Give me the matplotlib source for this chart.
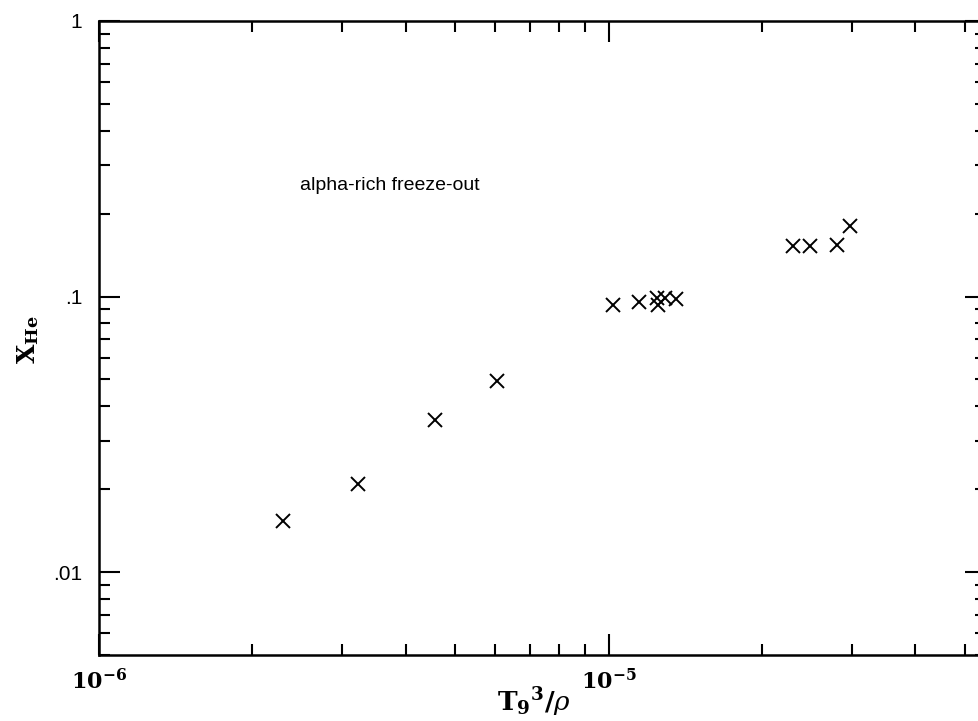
import matplotlib
matplotlib.use("Agg")
import matplotlib.pyplot as plt
from matplotlib.ticker import LogLocator, NullFormatter

# data
t9_over_rho = [2.30e-6, 3.23e-6, 4.56e-6, 6.05e-6,
               1.02e-5, 1.148e-5, 1.242e-5, 1.251e-5, 1.289e-5, 1.355e-5,
               2.30e-5, 2.48e-5, 2.81e-5, 2.98e-5]
x_he = [0.0153, 0.0208, 0.0356, 0.0493,
        0.0928, 0.0956, 0.0984, 0.0928, 0.0984, 0.0976,
        0.1524, 0.1524, 0.1532, 0.1805]

y_ticks = [0.01, 0.1, 1.0]
y_tick_labels = [".01", ".1", "1"]
x_ticks = [1e-6, 1e-5]
x_tick_labels = [r"$\mathbf{10^{-6}}$", r"$\mathbf{10^{-5}}$"]

plt.rcParams['mathtext.fontset'] = 'dejavuserif'

fig = plt.figure(figsize=(9.79, 7.21), dpi=100)
ax = fig.add_axes([98.7/979, (721-655)/721, (986-98.7)/979, (655-21)/721])

ax.set_xscale('log')
ax.set_yscale('log')

ax.plot(t9_over_rho, x_he, linestyle='none', marker='x', color='black',
        markersize=10, markeredgewidth=1.4)

ax.set_xlim(1e-6, 5.5e-5)
ax.set_ylim(0.005, 1.0)

ax.set_xticks(x_ticks)
ax.set_xticklabels(x_tick_labels, fontsize=16)
ax.set_yticks(y_ticks)
ax.set_yticklabels(y_tick_labels, fontsize=15, fontfamily='Liberation Sans')
ax.xaxis.set_minor_locator(LogLocator(base=10, subs=range(2, 10), numticks=20))
ax.xaxis.set_minor_formatter(NullFormatter())
ax.yaxis.set_minor_locator(LogLocator(base=10, subs=range(2, 10), numticks=20))
ax.yaxis.set_minor_formatter(NullFormatter())

ax.tick_params(which='both', direction='in', top=True, right=True, width=1.5, color='black')
ax.tick_params(which='major', length=15)
ax.tick_params(which='minor', length=8)
ax.tick_params(axis='x', which='major', pad=9)
ax.tick_params(axis='y', which='major', pad=12)
for sp in ax.spines.values():
    sp.set_linewidth(1.8)

ax.set_xlabel(r"$\mathbf{T_9}^{\mathbf{3}}\mathbf{/}\rho$", fontsize=19, va='center')
ax.xaxis.set_label_coords((534 - 98.7) / 887.3, (655 - 702) / 634)
ax.set_ylabel(r"$\mathbf{X_{He}}$", fontsize=18, va='center')
ax.yaxis.set_label_coords((28 - 98.7) / 887.3, (655 - 340) / 634)

ax.text(2.48e-6, 0.252, "alpha-rich freeze-out", fontsize=14,
        family='Liberation Sans', ha='left', va='center')

fig.savefig("out.png", dpi=100)
